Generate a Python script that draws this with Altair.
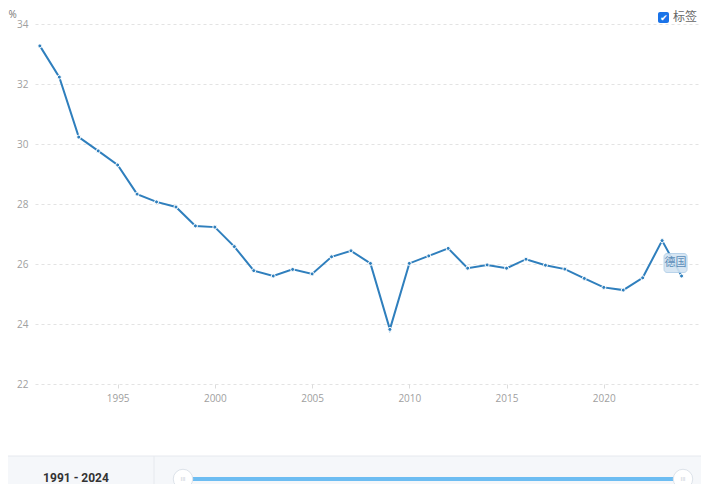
import altair as alt
import pandas as pd

years = list(range(1991, 2025))
values = [33.27, 32.23, 30.23, 29.77, 29.30, 28.33, 28.07, 27.90, 27.27, 27.23,
          26.58, 25.78, 25.60, 25.82, 25.67, 26.24, 26.44, 26.02, 23.82, 26.02,
          26.27, 26.52, 25.86, 25.97, 25.86, 26.16, 25.96, 25.83, 25.52, 25.22,
          25.13, 25.54, 26.78, 25.60]
series_name = "德国"
x_ticks = [1995, 2000, 2005, 2010, 2015, 2020]
y_ticks = [22, 24, 26, 28, 30, 32, 34]
range_label = "1991 - 2024"
slider_years = [1991, 2024]

df = pd.DataFrame({"year": years, "value": values})
last = df.tail(1).assign(name=series_name)

W, H = 666, 360
LINE = "#2f7fbd"
GRID = "#e3e3e3"
LABEL = "#a0a0a0"
XD = [1990.75, 2025]

xs = alt.Scale(domain=XD, nice=False, zero=False)
ys = alt.Scale(domain=[22, 34], nice=False, zero=False)

base = alt.Chart(df)

line = base.mark_line(color=LINE, strokeWidth=2).encode(
    x=alt.X("year:Q", scale=xs,
            axis=alt.Axis(values=x_ticks, format="d", grid=False, domain=False,
                          ticks=True, tickSize=4, tickColor="#dcdcdc",
                          labelColor=LABEL, labelFontSize=10, labelPadding=5,
                          labelFont="Open Sans", title=None)),
    y=alt.Y("value:Q", scale=ys,
            axis=alt.Axis(values=y_ticks, grid=True, gridColor=GRID,
                          gridDash=[3, 3], gridWidth=1, domain=False, ticks=False,
                          labelColor=LABEL, labelFontSize=10, labelPadding=7,
                          labelFont="Open Sans",
                          title="%", titleAngle=0, titleAlign="left",
                          titleBaseline="middle", titleX=-27, titleY=-10,
                          titleColor="#777", titleFontSize=10,
                          titleFontWeight="normal", titleFont="Open Sans")),
)

pts = base.mark_circle(color=LINE, size=16, opacity=1, stroke="white",
                       strokeWidth=1).encode(
    x=alt.X("year:Q", scale=xs), y=alt.Y("value:Q", scale=ys))

lab_box = alt.Chart(last).mark_rect(width=23, height=19, cornerRadius=3,
                                    fill="#d3e4f2", stroke="#b2cfe8",
                                    strokeWidth=1, opacity=0.9,
                                    xOffset=-6, yOffset=-13).encode(
    x=alt.X("year:Q", scale=xs), y=alt.Y("value:Q", scale=ys))

lab_txt = alt.Chart(last).mark_text(font="Noto Sans CJK SC", fontSize=11,
                                    color="#5a8cb8", dx=-6, dy=-13,
                                    align="center", baseline="middle").encode(
    x=alt.X("year:Q", scale=xs), y=alt.Y("value:Q", scale=ys), text="name:N")

main = alt.layer(line, pts, lab_box, lab_txt)

# decorations (checkbox + bottom range bar)
one = pd.DataFrame({"t": ["标签"]})
cb_box = alt.Chart(one).mark_rect(fill="#1a73e8", cornerRadius=2).encode(
    x=alt.value(623), x2=alt.value(634), y=alt.value(-12), y2=alt.value(-1))
cb_check = alt.Chart(one).mark_text(text="✔", color="white", fontSize=9,
                                    align="center", baseline="middle").encode(
    x=alt.value(628.5), y=alt.value(-6.5))
cb_label = alt.Chart(one).mark_text(font="Noto Sans CJK SC", fontSize=12,
                                    color="#666", align="left",
                                    baseline="middle").encode(
    x=alt.value(638), y=alt.value(-7), text="t:N")

band = alt.Chart(one).mark_rect(fill="#f5f7fa", stroke="#e6e9ee",
                                strokeWidth=1).encode(
    x=alt.value(-28), x2=alt.value(700), y=alt.value(432), y2=alt.value(470))
divider = alt.Chart(one).mark_rule(color="#e6e9ee", strokeWidth=1).encode(
    x=alt.value(119), y=alt.value(432), y2=alt.value(470))
rng = pd.DataFrame({"t": [range_label]})
rng_txt = alt.Chart(rng).mark_text(font="Roboto", fontWeight="bold",
                                   fontSize=12, color="#333",
                                   align="center", baseline="middle").encode(
    x=alt.value(41), y=alt.value(454), text="t:N")

sl = pd.DataFrame({"a": [slider_years[0]], "b": [slider_years[1]]})
sls = alt.Scale(domain=slider_years, range=[148, 648], nice=False, zero=False)
slider_line = alt.Chart(sl).mark_rule(color="#6dbdf2", strokeWidth=4).encode(
    x=alt.X("a:Q", scale=sls, axis=None), x2="b:Q", y=alt.value(455))
hd = pd.DataFrame({"yr": slider_years})
handles = alt.Chart(hd).mark_circle(size=380, fill="white", stroke="#dde3ea",
                                    strokeWidth=1, opacity=1).encode(
    x=alt.X("yr:Q", scale=sls, axis=None), y=alt.value(455))
grips = alt.Chart(hd).mark_text(text="III", fontSize=6, color="#c8ced6",
                                align="center", baseline="middle").encode(
    x=alt.X("yr:Q", scale=sls, axis=None), y=alt.value(455))
slider = alt.layer(slider_line, handles, grips)

chart = alt.layer(band, divider, rng_txt, main, slider, cb_box, cb_check,
                  cb_label).resolve_scale(x="independent").properties(
    width=W, height=H,
    background="white",
    autosize=alt.AutoSizeParams(type="none"),
    padding={"left": 27, "top": 16, "right": 0, "bottom": 100},
).configure_view(stroke=None, strokeWidth=0)

chart.save("out.html", embed_options={"renderer": "svg", "actions": False})
